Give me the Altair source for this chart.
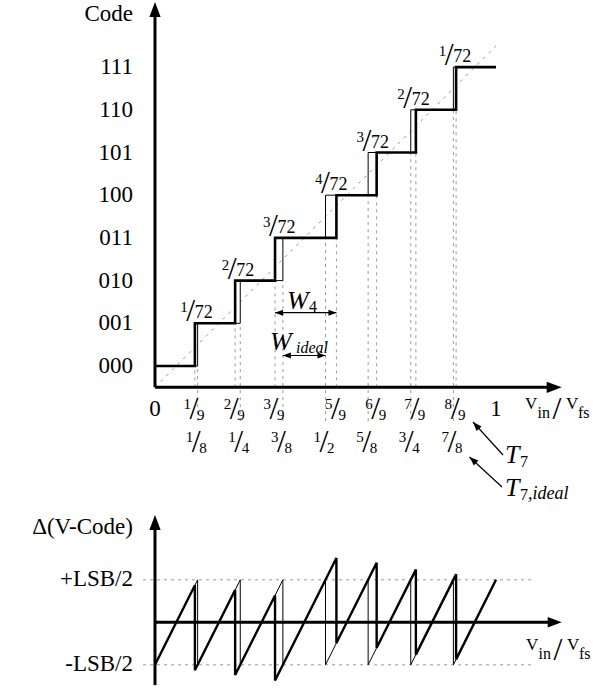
import altair as alt
import pandas as pd

# ---------------- data ----------------
codes = [0, 1, 2, 3, 4, 5, 6, 7]
code_labels = ["000", "001", "010", "011", "100", "101", "110", "111"]
ideal_T = [0.125, 0.25, 0.375, 0.5, 0.625, 0.75, 0.875]
actual_T = [0.117, 0.235, 0.352, 0.532, 0.650, 0.765, 0.883]
actual_num = ["1", "2", "3", "5", "6", "7", "8"]
actual_den = ["9", "9", "9", "9", "9", "9", "9"]
ideal_num = ["1", "1", "3", "1", "5", "3", "7"]
ideal_den = ["8", "4", "8", "2", "8", "4", "8"]
diff_num = ["1", "2", "3", "4", "3", "2", "1"]
diff_den = ["72", "72", "72", "72", "72", "72", "72"]
err_start = [-0.5, -0.564, -0.62, -0.684, -0.244, -0.30, -0.38, -0.436]
err_end = [0.436, 0.38, 0.316, 0.756, 0.70, 0.62, 0.564, 0.5]
x_end = 1.0

FONT = "Liberation Serif"
W, H = 593, 690
X0, XU = 155.0, 341.0          # px of x=0, px per unit
YT0, YTU = 366.0, 42.7         # top plot: px of code 0, px per code
YB0, YBU = 622.3, 85.0         # bottom plot: px of error 0, px per LSB

XS = alt.Scale(domain=[-X0 / XU, (W - X0) / XU], nice=False, zero=False)
YTS = alt.Scale(domain=[(YT0 - H) / YTU, YT0 / YTU], nice=False, zero=False)
YBS = alt.Scale(domain=[(YB0 - H) / YBU, YB0 / YBU], nice=False, zero=False)

def xq(f):
    return alt.X(f"{f}:Q", scale=XS, axis=None)

def yt(f):
    return alt.Y(f"{f}:Q", scale=YTS, axis=None)

def yb(f):
    return alt.Y(f"{f}:Q", scale=YBS, axis=None)

ARROW_R = "M0,0L-2,-0.75L-2,0.75Z"
ARROW_U = "M0,0L-0.75,2L0.75,2Z"
ARROW_L = "M0,0L2,-0.75L2,0.75Z"

layers = []

# ---------- top plot ----------
dot_ideal = pd.DataFrame({"x": ideal_T, "y": [-1.29] * 7, "y2": codes[:7]})
layers.append(alt.Chart(dot_ideal).mark_rule(color="#999", strokeWidth=1, strokeDash=[3, 4]).encode(
    x=xq("x"), y=yt("y"), y2="y2:Q"))
dot_act = pd.DataFrame({"x": actual_T, "y": [-0.5] * 7, "y2": codes[:7]})
layers.append(alt.Chart(dot_act).mark_rule(color="#999", strokeWidth=1, strokeDash=[3, 4]).encode(
    x=xq("x"), y=yt("y"), y2="y2:Q"))

diag = pd.DataFrame({"x": [0, x_end], "y": [-0.5, 7.5]})
layers.append(alt.Chart(diag).mark_line(color="#999", strokeWidth=1, strokeDash=[3, 5]).encode(
    x=xq("x"), y=yt("y")))

def stair(th):
    xs, ys = [0.0], [0]
    for k, t in enumerate(th, start=1):
        xs += [t, t]
        ys += [k - 1, k]
    xs.append(x_end)
    ys.append(7)
    return pd.DataFrame({"x": xs, "y": ys, "i": range(len(xs))})

layers.append(alt.Chart(stair(ideal_T)).mark_line(color="black", strokeWidth=1).encode(
    x=xq("x"), y=yt("y"), order="i:Q"))
layers.append(alt.Chart(stair(actual_T)).mark_line(color="black", strokeWidth=2.6).encode(
    x=xq("x"), y=yt("y"), order="i:Q"))

ax_top = pd.DataFrame({"x": [0.0, 0.0], "y": [-0.5, -0.5], "x2": [1.165, 0.0], "y2": [-0.5, 8.2]})
layers.append(alt.Chart(ax_top).mark_rule(color="black", strokeWidth=3).encode(
    x=xq("x"), y=yt("y"), x2="x2:Q", y2="y2:Q"))
layers.append(alt.Chart(pd.DataFrame({"x": [1.1927], "y": [-0.5]})).mark_point(
    shape=ARROW_R, size=225, filled=True, color="black", opacity=1).encode(x=xq("x"), y=yt("y")))
layers.append(alt.Chart(pd.DataFrame({"x": [0.0], "y": [8.525]})).mark_point(
    shape=ARROW_U, size=225, filled=True, color="black", opacity=1).encode(x=xq("x"), y=yt("y")))

ylab = pd.DataFrame({"c": codes, "t": code_labels})
layers.append(alt.Chart(ylab).mark_text(font=FONT, fontSize=23, align="right", baseline="middle").encode(
    x=alt.value(133), y=yt("c"), text="t:N"))


def frac(df, x_enc, y_enc, nsz, dsz, ssz, sdx, sdy, ndx, ndy, ddx, ddy):
    base = alt.Chart(df).encode(x=x_enc, y=y_enc)
    s = base.mark_text(font=FONT, fontSize=ssz, align="center", baseline="middle",
                       dx=sdx, dy=sdy).encode(text=alt.value("/"))
    n = base.mark_text(font=FONT, fontSize=nsz, align="right", baseline="middle",
                       dx=sdx + ndx, dy=sdy + ndy).encode(text="num:N")
    d = base.mark_text(font=FONT, fontSize=dsz, align="left", baseline="middle",
                       dx=sdx + ddx, dy=sdy + ddy).encode(text="den:N")
    return [s, n, d]

layers += frac(pd.DataFrame({"x": actual_T, "num": actual_num, "den": actual_den}),
               xq("x"), alt.value(409), 15, 15, 32, -1, 0, -3, -5, 3, 6)
layers += frac(pd.DataFrame({"x": ideal_T, "num": ideal_num, "den": ideal_den}),
               xq("x"), alt.value(442), 15, 15, 32, -1.5, 0, -3, -5, 3, 6)

mid = [(a + b) / 2 for a, b in zip(actual_T, ideal_T)]
layers += frac(pd.DataFrame({"x": mid, "y": codes[1:], "num": diff_num, "den": diff_den}),
               xq("x"), yt("y"), 15, 18, 32, -5.5, -12, -3, -4, 4, 2)

layers.append(alt.Chart(pd.DataFrame({"x": [0.0, 1.0], "t": ["0", "1"]})).mark_text(
    font=FONT, fontSize=23, align="center", baseline="middle").encode(
    x=xq("x"), y=alt.value(409), text="t:N"))

warr = pd.DataFrame({"x": [actual_T[2], ideal_T[2]], "x2": [actual_T[3], ideal_T[3]], "py": [312.7, 355.5]})
for _, r in warr.iterrows():
    one = pd.DataFrame([r])
    layers.append(alt.Chart(one).mark_rule(color="black", strokeWidth=1.2).encode(
        x=xq("x"), x2="x2:Q", y=alt.value(r.py)))
    layers.append(alt.Chart(one).mark_point(shape=ARROW_L, size=64, filled=True, color="black", opacity=1).encode(
        x=xq("x"), y=alt.value(r.py)))
    layers.append(alt.Chart(one).mark_point(shape=ARROW_R, size=64, filled=True, color="black", opacity=1).encode(
        x=xq("x2"), y=alt.value(r.py)))

t_arrows = [(503, 455, 473, 422, 227.7), (502, 487, 469.5, 457, 222.5)]
for (x1, y1, x2, y2, ang) in t_arrows:
    layers.append(alt.Chart(pd.DataFrame({"a": [0]})).mark_rule(color="black", strokeWidth=1.2).encode(
        x=alt.value(x1), y=alt.value(y1), x2=alt.value(x2), y2=alt.value(y2)))
    layers.append(alt.Chart(pd.DataFrame({"a": [0]})).mark_point(
        shape=ARROW_R, size=81, filled=True, color="black", opacity=1, angle=ang).encode(
        x=alt.value(x2), y=alt.value(y2)))

# ---------- bottom plot ----------
lsb = pd.DataFrame({"x": [-0.035, -0.035], "x2": [1.105, 1.105], "y": [0.5, -0.5]})
layers.append(alt.Chart(lsb).mark_rule(color="#999", strokeWidth=1, strokeDash=[3, 4]).encode(
    x=xq("x"), x2="x2:Q", y=yb("y")))

ix, iy = [0.0], [-0.5]
for t in ideal_T:
    ix += [t, t]
    iy += [0.5, -0.5]
ix.append(x_end)
iy.append(0.5)
layers.append(alt.Chart(pd.DataFrame({"x": ix, "y": iy, "i": range(len(ix))})).mark_line(
    color="black", strokeWidth=1).encode(x=xq("x"), y=yb("y"), order="i:Q"))

ax_, ay_ = [0.0], [err_start[0]]
for k, t in enumerate(actual_T, start=1):
    ax_ += [t, t]
    ay_ += [err_end[k - 1], err_start[k]]
ax_.append(x_end)
ay_.append(err_end[7])
layers.append(alt.Chart(pd.DataFrame({"x": ax_, "y": ay_, "i": range(len(ax_))})).mark_line(
    color="black", strokeWidth=2.4).encode(x=xq("x"), y=yb("y"), order="i:Q"))

ax_bot = pd.DataFrame({"x": [0.0, 0.0], "y": [0.0, -0.739], "x2": [1.165, 0.0], "y2": [0.0, 1.1]})
layers.append(alt.Chart(ax_bot).mark_rule(color="black", strokeWidth=3).encode(
    x=xq("x"), y=yb("y"), x2="x2:Q", y2="y2:Q"))
layers.append(alt.Chart(pd.DataFrame({"x": [1.1927], "y": [0.0]})).mark_point(
    shape=ARROW_R, size=196, filled=True, color="black", opacity=1).encode(x=xq("x"), y=yb("y")))
layers.append(alt.Chart(pd.DataFrame({"x": [0.0], "y": [1.261]})).mark_point(
    shape=ARROW_U, size=225, filled=True, color="black", opacity=1).encode(x=xq("x"), y=yb("y")))

# ---------- free text (pixel positions) ----------
def ptext(rows, align="left", italic=False):
    df = pd.DataFrame(rows, columns=["t", "px", "py", "s"])
    return alt.Chart(df).mark_text(font=FONT, align=align, baseline="middle",
                                   fontStyle="italic" if italic else "normal", color="black").encode(
        x=alt.X("px:Q", scale=None), y=alt.Y("py:Q", scale=None), text="t:N",
        size=alt.Size("s:Q", scale=None, legend=None))

layers.append(ptext([
    ("Code", 133, 14, 23),
    ("Δ(V-Code)", 133, 527, 23),
    ("+LSB/2", 133, 579, 23),
    ("-LSB/2", 133, 664, 23),
], align="right"))

layers.append(ptext([
    ("V", 525, 404, 17), ("in", 537.5, 413, 16), ("V", 566, 404, 17), ("fs", 578, 413, 16),
    ("V", 526, 645, 17), ("in", 538.5, 654, 16), ("V", 567, 645, 17), ("fs", 579, 654, 16),
    ("7", 520, 462, 16), ("4", 309, 307, 16), ("7", 520, 495, 16),
], align="left"))
layers.append(ptext([("/", 557, 409, 32), ("/", 558, 650, 32)], align="center"))

layers.append(ptext([
    ("T", 505, 455, 26),
    ("T", 505, 488, 26), (",ideal", 528, 494, 18),
    ("W", 287, 301, 26),
    ("W", 270, 342, 26), ("ideal", 296, 348, 16),
], align="left", italic=True))

chart = alt.layer(*layers).resolve_scale(y="independent").properties(
    width=W, height=H, autosize=alt.AutoSizeParams(type="none"), padding=0
).configure_view(stroke=None)

chart.save("out.html", embed_options={"renderer": "svg", "actions": False})
